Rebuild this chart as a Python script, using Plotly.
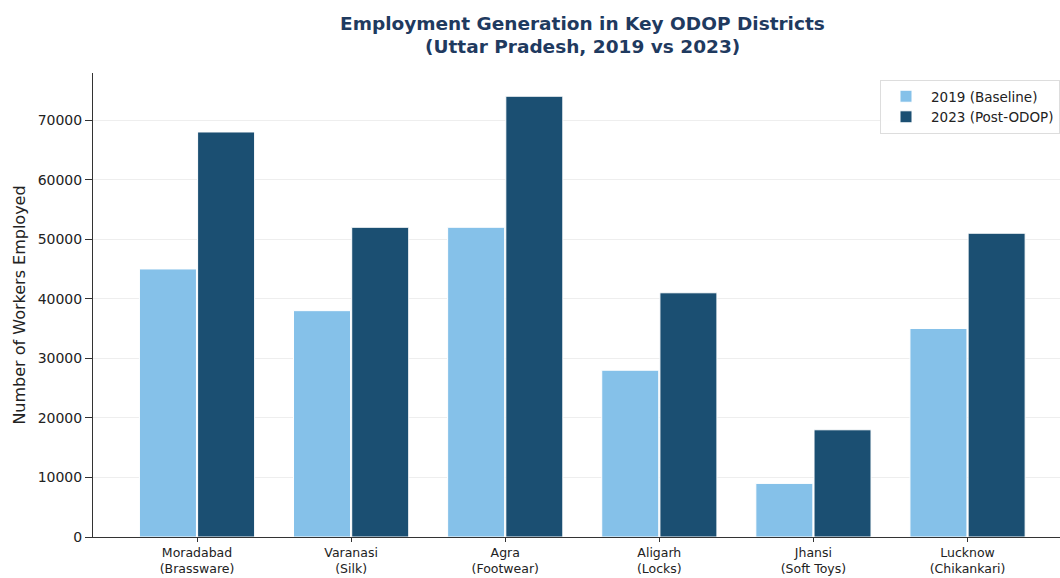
import plotly.graph_objects as go

categories = ["Moradabad<br>(Brassware)", "Varanasi<br>(Silk)", "Agra<br>(Footwear)",
              "Aligarh<br>(Locks)", "Jhansi<br>(Soft Toys)", "Lucknow<br>(Chikankari)"]
workers_2019 = [45000, 38000, 52000, 28000, 9000, 35000]
workers_2023 = [68000, 52000, 74000, 41000, 18000, 51000]
series_names = ["2019 (Baseline)", "2023 (Post-ODOP)"]
y_ticks = [0, 10000, 20000, 30000, 40000, 50000, 60000, 70000]
title_lines = ["Employment Generation in Key ODOP Districts", "(Uttar Pradesh, 2019 vs 2023)"]

font = "DejaVu Sans"
fig = go.Figure()
fig.add_trace(go.Bar(x=categories, y=workers_2019, name=series_names[0],
                     marker=dict(color="#85C1E9", line=dict(color="white", width=1))))
fig.add_trace(go.Bar(x=categories, y=workers_2023, name=series_names[1],
                     marker=dict(color="#1B4F72", line=dict(color="white", width=1))))

title_y = [24, 47]
for txt, yy in zip(title_lines, title_y):
    fig.add_annotation(text="<b>" + txt + "</b>", xref="paper", yref="paper",
                       x=(582 - 93) / (1060 - 93), y=1 + (73 - yy) / (578 - 73 - 41),
                       xanchor="center", yanchor="middle", showarrow=False,
                       font=dict(family=font, size=18.5, color="#1F3A5F"))

fig.update_layout(
    width=1060, height=578,
    paper_bgcolor="white", plot_bgcolor="white",
    margin=dict(l=93, r=0, t=73, b=41, autoexpand=False),
    barmode="group", bargap=0.245, bargroupgap=0.02,
    font=dict(family=font, size=13, color="#333333"),
    legend=dict(x=1.0, y=0.985, xanchor="right", yanchor="top",
                bgcolor="rgba(255,255,255,0.9)", bordercolor="#dddddd", borderwidth=1,
                font=dict(family=font, size=13.5, color="#222222"),
                itemwidth=40, tracegroupgap=0),
    xaxis=dict(type="category", range=[-0.675, 5.60], showline=True, linecolor="#333333", linewidth=1,
               ticks="outside", ticklen=4, tickcolor="#333333", showgrid=False, automargin=False,
               tickfont=dict(family=font, size=12.5, color="#222222")),
    yaxis=dict(range=[0, 77900], tickvals=y_ticks, ticktext=[str(v) for v in y_ticks],
               showline=True, linecolor="#333333", linewidth=1,
               ticks="outside", ticklen=7, tickcolor="#333333", automargin=False,
               showgrid=True, gridcolor="#EEEEEE", gridwidth=1, zeroline=False,
               tickfont=dict(family=font, size=14, color="#222222"),
               title=dict(text="Number of Workers Employed", font=dict(family=font, size=16, color="#222222"),
                          standoff=8)),
)
fig.write_html("out.html")
